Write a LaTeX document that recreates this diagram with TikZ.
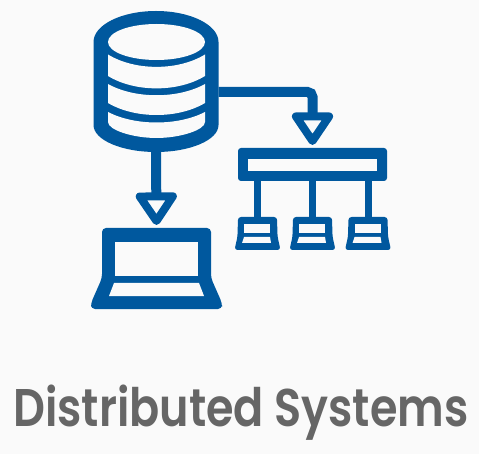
\documentclass[tikz,border=0pt]{standalone}
\usepackage{fontspec}
\usepackage{tikz}
\usetikzlibrary{arrows.meta}
\setmainfont{Poppins SemiBold}
\definecolor{iconblue}{HTML}{00589E}
\definecolor{pagegrey}{HTML}{FAFAFA}
\definecolor{titlegrey}{HTML}{666666}

\begin{document}
\begin{tikzpicture}[
x=1pt,y=-1pt,
iconbox/.style={inner sep=0pt,outer sep=0pt,minimum width=#1},
link/.style={draw=iconblue,line width=10pt,shorten >=3pt,-{Triangle[open,length=36pt,width=46pt,line width=8pt,round]}},
stem/.style={draw=iconblue,line width=7pt},
solid icon/.style={fill=iconblue,even odd rule},
minilaptop/.pic={
\path[solid icon,rounded corners=3pt] (-19.5,-16.5) -- (19.5,-16.5) -- (20,3) -- (23,16.5) -- (-23,16.5) -- (-20,3) -- cycle;
\path[fill=pagegrey] (-13.5,-9.5) rectangle (12.5,-0.5);
\path[fill=pagegrey] (-13.5,3.5) -- (12.5,3.5) -- (13.5,9.5) -- (-15.5,9.5) -- cycle;
}
]
\useasboundingbox[fill=pagegrey] (0,0) rectangle (479,454);

% placeholders for the icons
\node[iconbox=125pt,minimum height=141pt] (db) at (156,81.5) {};
\node[iconbox=131pt,minimum height=81pt] (laptop) at (156.5,268.5) {};
\node[iconbox=149pt,minimum height=33pt] (hub) at (312.5,164.5) {};
\node[iconbox=39pt,minimum height=33pt] (sa) at (257.5,233.5) {};
\node[iconbox=39pt,minimum height=33pt] (sb) at (312.5,233.5) {};
\node[iconbox=39pt,minimum height=33pt] (sc) at (368,233.5) {};

% database
\path[solid icon] (93.5,42) arc[start angle=180,end angle=360,x radius=62.5,y radius=31]
  -- (218.5,125) arc[start angle=0,end angle=180,x radius=62.5,y radius=27] -- cycle;
\path[fill=pagegrey] (156.5,42) ellipse[x radius=48.5,y radius=18];
\path[fill=pagegrey] (108,54.5) .. controls (135,71) and (178,71) .. (205,54.5)
  -- (205,76) .. controls (178,92.5) and (135,92.5) .. (108,76) -- cycle;
\path[fill=pagegrey] (108,84) .. controls (135,99) and (178,99) .. (205,84)
  -- (205,103) .. controls (178,119) and (135,119) .. (108,103) -- cycle;
\path[fill=pagegrey] (108,112) .. controls (135,126) and (178,126) .. (205,112)
  -- (205,122) .. controls (205,130) and (180,138) .. (156.5,138)
  .. controls (133,138) and (108,130) .. (108,122) -- cycle;

% laptop
\path[solid icon,rounded corners=4pt] (102,228) -- (211,228) -- (211,278) -- (222,303) -- (222,309)
  -- (91,309) -- (91,303) -- (102,278) -- cycle;
\path[fill=pagegrey] (115,242) rectangle (198,276);
\path[fill=pagegrey] (114,283) -- (199,283) -- (204,296) -- (109,296) -- cycle;

% hub
\path[solid icon,rounded corners=3pt] (238,148) rectangle (387,181);
\path[fill=pagegrey] (248,159) rectangle (377,171);

% small laptops
\foreach \n in {sa,sb,sc}{
\pic at (\n) {minilaptop};
\draw[stem] (hub.south -| \n) -- (\n.north);
}

\draw[link] (db.south) -- (laptop.north);
\draw[link,rounded corners=5pt] ([yshift=-10.5pt]db.east) -| (hub.north);

\node[font=\fontsize{53}{60}\selectfont,text=titlegrey,anchor=base] (title) at (241,426) {\scalebox{0.84}[1]{Distributed Systems}};
\end{tikzpicture}
\end{document}
